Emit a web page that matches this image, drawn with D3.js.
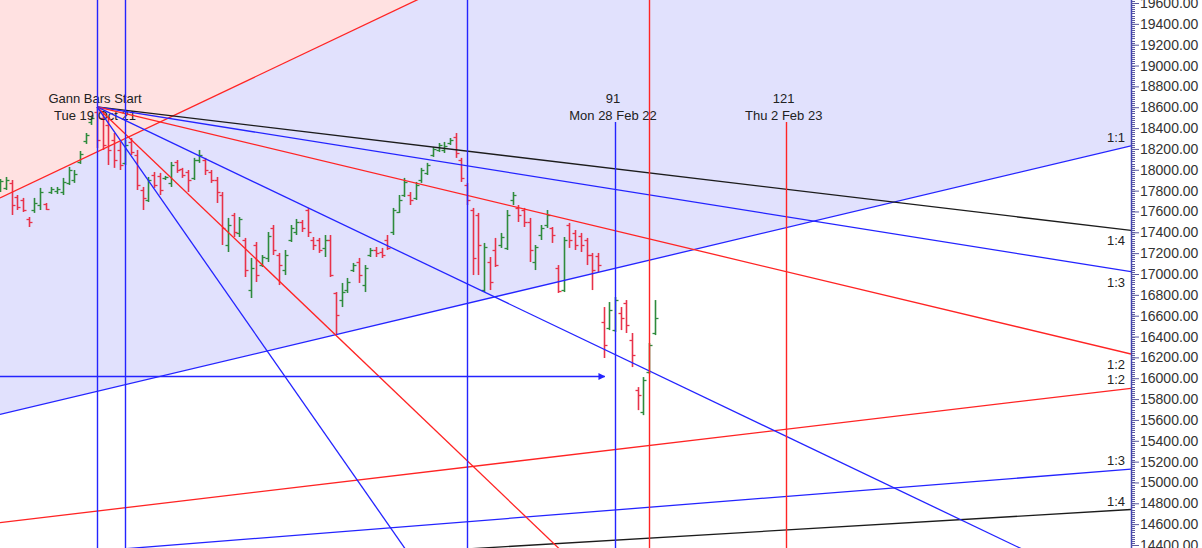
<!DOCTYPE html>
<html><head><meta charset="utf-8">
<script src="https://cdn.jsdelivr.net/npm/d3@7"></script>
<style>
html,body{margin:0;padding:0;background:#fff;overflow:hidden}
text{font-family:"Liberation Sans",Arial,sans-serif}
</style></head><body>
<svg id="c" width="1202" height="548"></svg>
<script>
// ---------- DATA ----------
const barIndex = [-18,-17,-16,-15,-14,-13,-12,-11,-10,-9,-8,-7,-6,-5,-4,-3,-2,-1,
 0,1,2,3,4,5,6,7,8,9,10,11,12,13,14,15,16,17,18,19,20,21,22,23,24,25,26,27,28,29,
 30,31,32,33,34,35,36,37,38,39,40,41,42,43,44,45,46,47,48,49,50,51,52,53,54,55,56,57,58,59,
 60,61,62,63,64,65,66,67,68,69,70,71,72,73,74,75,76,77,78,79,80,81,82,83,84,85,86,87,88,89,
 90,91,92,93,94,95,96,97,98];
const openP = [17662,17806,17826,17874,17739,17710,17528,17614,17662,17672,17787,17797,17787,17874,17902,18075,18276,18459,
 18555,18497,18430,18286,18190,18066,18267,18142,17806,17710,17950,17941,17922,17874,18075,18008,17979,17922,18094,18094,17979,17902,17758,17278,17566,17394,17326,16846,17278,17086,
 17154,17442,17182,17038,17326,17403,17499,17614,17326,17326,17250,17326,16818,16750,16846,17038,17115,16894,17182,17230,17211,17326,17403,17595,17758,17758,17730,17902,17970,18142,
 18190,18190,18257,18315,18094,17854,17614,17566,16846,17115,17230,17278,17250,17710,17634,17614,17499,17115,17374,17470,17442,17058,16846,17470,17394,17365,17326,17182,17173,16539,
 16482,16462,16626,16722,16366,15886,15675,16059,16434];
const highP = [17826,17912,17931,17902,17758,17730,17547,17730,17826,17681,17835,17835,17922,18027,17998,18180,18353,18516,
 18603,18555,18507,18353,18267,18286,18305,18190,17835,17931,17979,17970,17941,18075,18094,18018,17998,18114,18190,18114,17998,17931,17787,17538,17586,17547,17346,17154,17307,17182,
 17403,17470,17202,17230,17470,17528,17518,17634,17355,17346,17374,17374,16827,16914,16962,17106,17154,17086,17250,17259,17250,17374,17634,17758,17922,17787,17883,18018,18066,18219,
 18257,18267,18305,18353,18114,17874,17634,17586,17298,17163,17346,17394,17614,17787,17662,17634,17538,17278,17470,17614,17451,17086,17355,17490,17422,17394,17346,17202,17202,16683,
 16731,16779,16683,16750,16434,15915,16011,16338,16750];
const lowP = [17643,17787,17806,17566,17614,17595,17451,17586,17614,17614,17768,17768,17758,17854,17874,18056,18248,18430,
 18209,18190,18046,18018,17998,18046,18142,17806,17614,17691,17826,17758,17902,17835,17970,17922,17787,17902,18066,17950,17874,17681,17278,17211,17355,17355,16971,16770,16923,17067,
 17115,17182,16894,16990,17307,17374,17403,17355,17230,17202,17163,16971,16414,16683,16818,17019,16914,16827,17163,17163,17154,17230,17374,17586,17739,17662,17710,17874,17950,18123,
 18171,18161,18238,18114,17883,17662,16990,16990,16827,16846,17067,17250,17230,17662,17499,17451,17115,17038,17326,17442,17298,16818,16827,17250,17230,17211,17086,16846,17019,16194,
 16462,16443,16462,16434,16107,15694,15646,16040,16414];
const closeP = [17787,17893,17902,17662,17643,17614,17499,17681,17787,17624,17816,17816,17883,17998,17960,18152,18334,18497,
 18286,18238,18190,18094,18046,18238,18171,17854,17730,17902,17854,17806,17931,18046,17998,17950,17902,18094,18142,17998,17902,17787,17442,17470,17403,17528,17038,17058,16990,17163,
 17365,17230,17086,17182,17442,17499,17442,17403,17278,17230,17326,16990,16606,16827,16923,17086,16990,17058,17230,17202,17182,17250,17614,17710,17883,17710,17854,17998,18046,18200,
 18238,18228,18286,18161,17922,17710,17154,17278,17259,16923,17086,17355,17566,17758,17566,17499,17230,17259,17442,17566,17374,16836,17326,17326,17278,17278,17182,17038,17086,16318,
 16654,16750,16578,16510,16222,15838,15982,16318,16578];

const yTicks = [14400,14600,14800,15000,15200,15400,15600,15800,16000,16200,16400,16600,16800,17000,
 17200,17400,17600,17800,18000,18200,18400,18600,18800,19000,19200,19400,19600];

// Gann fan from the start bar high (down) and from a low (up)
const downOrigin = {bar: 0, price: 18603};
const downLabels = ["1:4","1:3","1:2","1:1","2:1","3:1"];
const downSlopes = [-6.525,-8.7,-13.05,-26.1,-52.2,-78.3];
const downColors = ["#1c1c1c","#2424ff","#ff2424","#2424ff","#ff2424","#2424ff"];

const upOrigin = {bar: -177.1, price: 13577};
const upLabels = ["1:1","2:1","1:2","1:3","1:4"];
const upSlopes = [12.97,25.94,6.485,4.323,3.243];
const upColors = ["#2424ff","#ff2424","#ff2424","#2424ff","#1c1c1c"];

// vertical bar-count markers
const markerBars = [0,5,65,91,97,121];
const markerColors = ["#2424ff","#2424ff","#2424ff","#2424ff","#ff2424","#ff2424"];
const markerFromLabel = [false,false,false,true,false,true];
const labelBars = [0,91,121];
const labelLine1 = ["Gann Bars Start","91","121"];
const labelLine2 = ["Tue 19 Oct 21","Mon 28 Feb 22","Thu 2 Feb 23"];
const labelPrice = 18459;

const arrowPrice = 16022;
const arrowEndBar = 89.2;

const xDomain = [-17.04, 181.66];
const yDomain = [14400, 19600];

// ---------- DRAW ----------
const W = 1202, H = 548, plotR = 1131;
const svg = d3.select("#c");
const x = d3.scaleLinear().domain(xDomain).range([0, plotR]);
const y = d3.scaleLinear().domain(yDomain).range([545, 3]);

svg.append("defs").append("clipPath").attr("id","clip")
  .append("rect").attr("x",0).attr("y",0).attr("width",plotR).attr("height",H);
svg.select("defs").append("marker").attr("id","arr")
  .attr("viewBox","0 0 10 10").attr("refX",9).attr("refY",5)
  .attr("markerWidth",7).attr("markerHeight",7).attr("markerUnits","userSpaceOnUse")
  .attr("orient","auto")
  .append("path").attr("d","M0,0L10,5L0,10Z").attr("fill","#2424ff");

const plot = svg.append("g").attr("clip-path","url(#clip)");
const upP = (b, s) => upOrigin.price + s * (b - upOrigin.bar);
const downP = (b, s) => downOrigin.price + s * (b - downOrigin.bar);
const [b0, b1] = xDomain;

// backgrounds
plot.append("rect").attr("x",0).attr("y",0).attr("width",plotR).attr("height",H).attr("fill","#ffffff");
function topPoly(s){
  return [[x(b0), y(upP(b0,s))],[x(b1), y(upP(b1,s))],[x(b1),-50],[x(b0),-50]];
}
plot.append("path").attr("d", d3.line()(topPoly(upSlopes[0])) + "Z").attr("fill","#e1e1fd");
plot.append("path").attr("d", d3.line()(topPoly(upSlopes[1])) + "Z").attr("fill","#ffe1e1");

// bars
const bars = plot.append("g");
barIndex.forEach((b, i) => {
  const col = closeP[i] >= openP[i] ? "#2e8b3c" : "#e8324a";
  const cx = Math.round(x(b)) + 0.5;
  const g = bars.append("g").attr("stroke", col).attr("stroke-width",1.6);
  g.append("line").attr("x1",cx).attr("x2",cx).attr("y1",y(highP[i])).attr("y2",y(lowP[i]));
  const yo = Math.round(y(openP[i])) + 0.5, yc = Math.round(y(closeP[i])) + 0.5;
  g.append("line").attr("x1",cx-3).attr("x2",cx).attr("y1",yo).attr("y2",yo).attr("stroke-width",1.3);
  g.append("line").attr("x1",cx).attr("x2",cx+3).attr("y1",yc).attr("y2",yc).attr("stroke-width",1.3);
});

// texts at markers
labelBars.forEach((b, i) => {
  const ty = y(labelPrice);
  plot.append("text").attr("x", x(b) - 2).attr("y", ty - 19).attr("text-anchor","middle")
    .attr("font-size",13).attr("fill","#222").text(labelLine1[i]);
  plot.append("text").attr("x", x(b) - 2).attr("y", ty - 2).attr("text-anchor","middle")
    .attr("font-size",13).attr("fill","#222").text(labelLine2[i]);
});

// up fan lines
upSlopes.forEach((s, i) => {
  plot.append("line").attr("x1", x(b0)).attr("y1", y(upP(b0,s)))
    .attr("x2", x(b1)).attr("y2", y(upP(b1,s)))
    .attr("stroke", upColors[i]).attr("stroke-width",1.3);
  const pe = upP(b1, s);
  if (pe >= yDomain[0] && pe <= yDomain[1]) {
    plot.append("text").attr("x", plotR - 6).attr("y", y(pe) - 4).attr("text-anchor","end")
      .attr("font-size",13).attr("fill","#222").text(upLabels[i]);
  }
});
// down fan lines
downSlopes.forEach((s, i) => {
  plot.append("line").attr("x1", x(downOrigin.bar)).attr("y1", y(downOrigin.price))
    .attr("x2", x(b1)).attr("y2", y(downP(b1,s)))
    .attr("stroke", downColors[i]).attr("stroke-width",1.3);
  const pe = downP(b1, s);
  if (pe >= yDomain[0] && pe <= yDomain[1]) {
    plot.append("text").attr("x", plotR - 6).attr("y", y(pe) + 15).attr("text-anchor","end")
      .attr("font-size",13).attr("fill","#222").text(downLabels[i]);
  }
});

// vertical markers
markerBars.forEach((b, i) => {
  const cx = Math.round(x(b)) + 0.5;
  plot.append("line").attr("x1",cx).attr("x2",cx)
    .attr("y1", markerFromLabel[i] ? y(labelPrice) : 0).attr("y2", H)
    .attr("stroke", markerColors[i]).attr("stroke-width",1.4);
});

// horizontal arrow
plot.append("line").attr("x1", x(b0)).attr("x2", x(arrowEndBar))
  .attr("y1", Math.round(y(arrowPrice))+0.5).attr("y2", Math.round(y(arrowPrice))+0.5)
  .attr("stroke","#2424ff").attr("stroke-width",1.3).attr("marker-end","url(#arr)");

// axis
const ax = svg.append("g").attr("transform", `translate(${plotR},0)`);
ax.append("line").attr("x1",0.5).attr("x2",0.5).attr("y1",0).attr("y2",H)
  .attr("stroke","#4646b4").attr("stroke-width",1.5);
d3.range(yDomain[0], yDomain[1] + 200, 20).forEach(v => {
  const yy = Math.round(y(v)) + 0.5;
  ax.append("line").attr("x1",1).attr("x2",4).attr("y1",yy).attr("y2",yy)
    .attr("stroke","#5a5aa0").attr("stroke-width",1);
});
const yAxis = d3.axisRight(y).tickValues(yTicks).tickFormat(d3.format(".2f"))
  .tickSize(8).tickPadding(1).tickSizeOuter(0);
const ag = ax.append("g").call(yAxis);
ag.select(".domain").remove();
ag.selectAll(".tick line").attr("stroke","#5a5aa0");
ag.selectAll(".tick text").attr("font-size",14).attr("fill","#333")
  .attr("font-family",'"Liberation Sans",Arial,sans-serif');
</script>
</body></html>
